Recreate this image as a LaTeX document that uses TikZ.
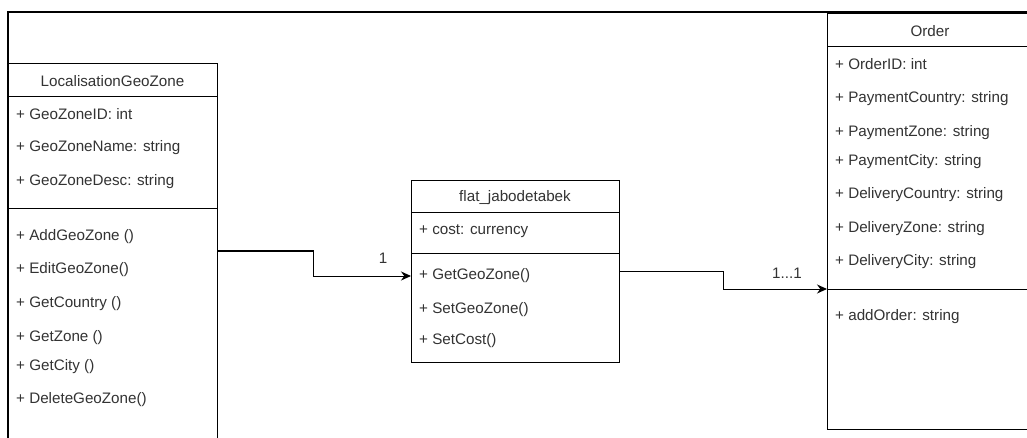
\documentclass[tikz,border=0pt]{standalone}
\usepackage{fontspec}
\setmainfont{Liberation Sans}
\usetikzlibrary{arrows.meta}
\begin{document}
\begin{tikzpicture}[x=1pt,y=-1pt,
  box/.style={draw=black, line width=1pt, anchor=north west, inner sep=0pt},
  txt/.style={anchor=west, inner sep=0pt, text=black!80, font=\fontsize{15.2}{17}\selectfont},
  hdr/.style={anchor=center, inner sep=0pt, text=black!80, font=\fontsize{15.2}{17}\selectfont},
  sep/.style={draw=black, line width=1pt},
  conn/.style={draw=black, line width=1pt, -{Stealth[length=10pt,width=9pt]}},
  frame/.style={draw=black, line width=2pt}]
\clip (0,0) rectangle (1027,438);
\fill[white] (0,0) rectangle (1027,438);
% outer frame
\coordinate (fbl) at (8,445);
\coordinate (ftl) at (8,12);
\coordinate (ftr) at (1030,12);
\draw[frame] (fbl) -- (ftl) -- (ftr);
% LocalisationGeoZone
\node[box, minimum width=209pt, minimum height=390pt] (geo) at (8,63) {};
\draw[sep] (8,97) -- (217,97);
\draw[sep] (8,209) -- (217,209);
\node[hdr] (geoh) at (112.5,81) {LocalisationGeoZone};
\node[txt] (g1) at (16,114) {+ GeoZoneID: int};
\node[txt] (g2) at (16,148) {+ GeoZoneName: string};
\node[txt] (g3) at (16,182) {+ GeoZoneDesc: string};
\node[txt] (g4) at (16,237) {+ AddGeoZone ()};
\node[txt] (g5) at (16,270) {+ EditGeoZone()};
\node[txt] (g6) at (16,304) {+ GetCountry ()};
\node[txt] (g7) at (16,338) {+ GetZone ()};
\node[txt] (g8) at (16,367) {+ GetCity ()};
\node[txt] (g9) at (16,400) {+ DeleteGeoZone()};
% flat_jabodetabek
\node[box, minimum width=208pt, minimum height=182pt] (flat) at (411,180) {};
\draw[sep] (411,213) -- (619,213);
\draw[sep] (411,253) -- (619,253);
\node[hdr] (flath) at (515,198) {flat\_jabodetabek};
\node[txt] (f1) at (419,231) {+ cost: currency};
\node[txt] (f2) at (419,276) {+ GetGeoZone()};
\node[txt] (f3) at (419,310) {+ SetGeoZone()};
\node[txt] (f4) at (419,341) {+ SetCost()};
% Order
\node[box, minimum width=220pt, minimum height=416pt] (order) at (827,13) {};
\draw[sep] (827,47) -- (1040,47);
\draw[sep] (827,289) -- (1040,289);
\node[hdr] (orderh) at (930,31) {Order};
\node[txt] (o1) at (835,64) {+ OrderID: int};
\node[txt] (o2) at (835,99) {+ PaymentCountry: string};
\node[txt] (o3) at (835,133) {+ PaymentZone: string};
\node[txt] (o4) at (835,162) {+ PaymentCity: string};
\node[txt] (o5) at (835,195) {+ DeliveryCountry: string};
\node[txt] (o6) at (835,229) {+ DeliveryZone: string};
\node[txt] (o7) at (835,262) {+ DeliveryCity: string};
\node[txt] (o8) at (835,317) {+ addOrder: string};
% connectors
\draw[conn] (geo.east |- 0,251) -- (313,251) -- (313,276) -- (flat.west |- 0,276);
\node[hdr] (l1) at (383,258) {1};
\draw[conn] (flat.east |- 0,271) -- (723,271) -- (723,289) -- (order.west |- 0,289);
\node[hdr] (l2) at (787,273) {1...1};
\end{tikzpicture}
\end{document}
